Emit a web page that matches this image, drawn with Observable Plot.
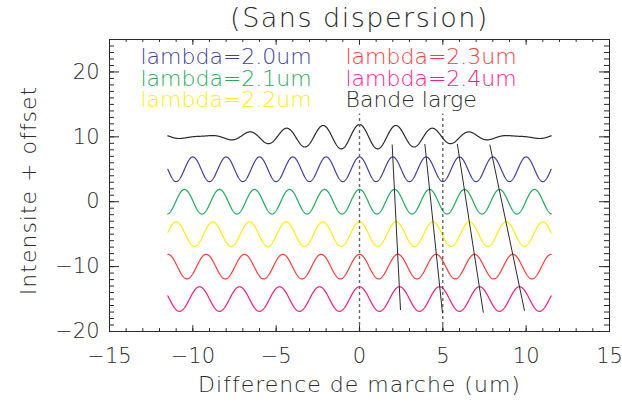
<!DOCTYPE html>
<html><head><meta charset="utf-8">
<script src="https://cdn.jsdelivr.net/npm/d3@7"></script>
<script src="https://cdn.jsdelivr.net/npm/@observablehq/plot@0.6"></script>
<style>body{margin:0;background:#fff}</style>
</head><body><div id="chart"></div>
<script>
// ---- data ----
const seriesNames = ["lambda=2.0um", "lambda=2.1um", "lambda=2.2um", "lambda=2.3um", "lambda=2.4um"];
const wavelengths = [2.0, 2.1, 2.2, 2.3, 2.4];   // um
const offsets = [5, 0, -5, -10, -15];
const amplitude = 1.9;
const broadName = "Bande large";
const broadOffset = 10;
const xStart = -11.5, xEnd = 11.5, xStep = 0.02;
const xMajorTicks = [-15, -10, -5, 0, 5, 10, 15];
const yMajorTicks = [-20, -10, 0, 10, 20];
const refLines = [0, 5];
const refLineTop = 13.5, refLineBottom = -20;
const trackTopX = [1.96, 3.92, 5.87, 7.82];
const trackTopY = [8.8, 8.9, 8.9, 8.8];
const trackBottomX = [2.46, 4.98, 7.43, 9.9];
const trackBottomY = [-16.7, -17.2, -17.1, -16.8];
const titleText = "(Sans dispersion)";
const xLabel = "Difference de marche (um)";
const yLabel = "Intensite + offset";

// ---- styles ----
const palette = ["#40409c", "#1fac5c", "#ffee00", "#ff3c3c", "#ff1a8c"];
const ink = "#2a2a2a";
const W = 622, H = 408, mL = 109, mR = 13, mT = 39, mB = 77;
const pw = W - mL - mR, ph = H - mT - mB;
const tickLenY = 0.02 * pw, tickLenX = 0.02 * ph;

// ---- build rows ----
const xs = d3.range(Math.round((xEnd - xStart) / xStep) + 1).map(i => xStart + i * xStep);
const curveRows = [];
seriesNames.forEach((name, i) => {
  xs.forEach(x => curveRows.push({name, x, y: offsets[i] + amplitude * Math.cos(2 * Math.PI * x / wavelengths[i])}));
});
const broadRows = xs.map(x => ({
  x,
  y: broadOffset + amplitude * d3.mean(wavelengths, l => Math.cos(2 * Math.PI * x / l))
}));
const tracks = trackTopX.map((x1, i) => ({x1, y1: trackTopY[i], x2: trackBottomX[i], y2: trackBottomY[i]}));

const xMinor = d3.range(-15, 15.5, 1);
const yMinor = d3.range(-20, 25.5, 1);

const legendEntries = [...seriesNames, broadName];
const legendColors = [...palette, ink];
const legendMarks = legendEntries.map((t, i) => Plot.text([t], {
  text: d => d, frameAnchor: "top-left", textAnchor: "start", lineAnchor: "bottom",
  dx: i < 3 ? 31 : 236, dy: 24.5 + 21.5 * (i % 3), fill: legendColors[i], fontSize: 22
}));

const fmt = d => d < 0 ? "\u2212" + Math.abs(d) : String(d);

const plot = Plot.plot({
  width: W, height: H,
  marginLeft: mL, marginRight: mR, marginTop: mT, marginBottom: mB,
  x: {domain: [-15, 15]},
  y: {domain: [-20, 25]},
  color: {domain: seriesNames, range: palette},
  style: {fontFamily: "'DejaVu Sans', sans-serif", fontWeight: 200, color: ink, background: "#fff"},
  marks: [
    Plot.line(curveRows, {x: "x", y: "y", z: "name", stroke: "name", strokeWidth: 1.2}),
    Plot.line(broadRows, {x: "x", y: "y", stroke: ink, strokeWidth: 1.2}),
    Plot.link(tracks, {x1: "x1", y1: "y1", x2: "x2", y2: "y2", stroke: ink, strokeWidth: 1}),
    Plot.ruleX(refLines, {x: d => d, y1: refLineBottom, y2: refLineTop, stroke: d => d === 0 ? "#666" : ink, strokeWidth: d => d === 0 ? 1.4 : 1, strokeDasharray: "3,3"}),
    // ticks (inward, IDL style)
    Plot.ruleX(xMinor, {x: d => d, insetTop: ph - tickLenX / 2, stroke: ink}),
    Plot.ruleX(xMinor, {x: d => d, insetBottom: ph - tickLenX / 2, stroke: ink}),
    Plot.ruleX(xMajorTicks, {x: d => d, insetTop: ph - tickLenX, stroke: ink}),
    Plot.ruleX(xMajorTicks, {x: d => d, insetBottom: ph - tickLenX, stroke: ink}),
    Plot.ruleY(yMinor, {y: d => d, insetRight: pw - tickLenY / 2, stroke: ink}),
    Plot.ruleY(yMinor, {y: d => d, insetLeft: pw - tickLenY / 2, stroke: ink}),
    Plot.ruleY(yMajorTicks, {y: d => d, insetRight: pw - tickLenY, stroke: ink}),
    Plot.ruleY(yMajorTicks, {y: d => d, insetLeft: pw - tickLenY, stroke: ink}),
    Plot.frame({stroke: ink}),
    Plot.axisX({ticks: xMajorTicks, tickSize: 0, tickPadding: 17, tickFormat: fmt, fontSize: 21, label: null}),
    Plot.axisY({ticks: yMajorTicks, tickSize: 0, tickPadding: 10, tickFormat: fmt, fontSize: 21, label: null}),
    Plot.text([titleText], {text: d => d, frameAnchor: "top", lineAnchor: "bottom", dy: -13, fontSize: 27}),
    Plot.text([xLabel], {text: d => d, frameAnchor: "bottom", lineAnchor: "bottom", dy: 60, fontSize: 22}),
    Plot.text([yLabel], {text: d => d, frameAnchor: "left", textAnchor: "middle", lineAnchor: "bottom", rotate: -90, dx: -74, dy: 5, fontSize: 22}),
    ...legendMarks
  ]
});
d3.select(plot).selectAll("text").filter(function () { return this.textContent === titleText; }).attr("letter-spacing", 1.5);
d3.select(plot).selectAll("text").filter(function () { return this.textContent === xLabel || this.textContent === yLabel; }).attr("letter-spacing", 1);
document.getElementById("chart").appendChild(plot);
</script>
</body></html>
